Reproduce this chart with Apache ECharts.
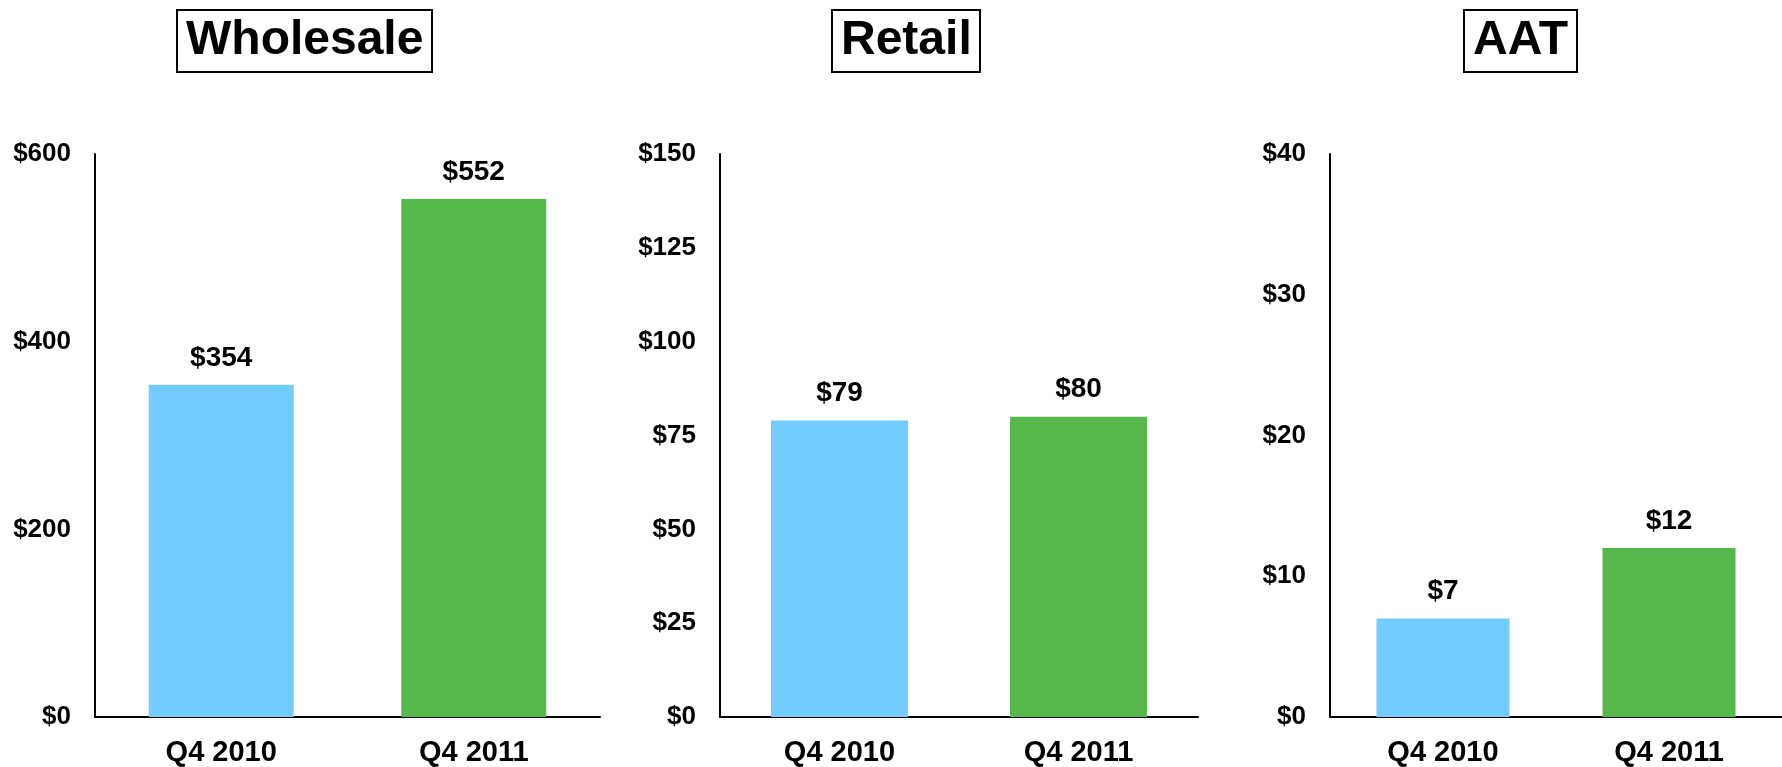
<!DOCTYPE html>
<html>
<head>
<meta charset="utf-8">
<script src="https://cdn.jsdelivr.net/npm/echarts@6/dist/echarts.min.js"></script>
<style>
    html, body { margin: 0; padding: 0; background: #fff; }
    #main { width: 1782px; height: 767px; }
</style>
</head>
<body>
<div id="main"></div>
<script>
let categories = ['Q4 2010', 'Q4 2011']
let panelTitles = ['Wholesale', 'Retail', 'AAT']
let wholesaleValues = [354, 552]
let retailValues = [79, 80]
let aatValues = [7, 12]
let barColors = ['#72CCFE', '#56B84A']

// axis ranges per panel: [max, interval]
let wholesaleAxis = [600, 200]
let retailAxis = [150, 25]
let aatAxis = [40, 10]

let font = 'Liberation Sans, Arial, sans-serif'

// layout of each panel (pixels)
let panels = [
    { values: wholesaleValues, axis: wholesaleAxis, left: 95, right: 1182, barWidth: 145, titleLeft: 177 },
    { values: retailValues, axis: retailAxis, left: 720, right: 584, barWidth: 137, titleLeft: 832 },
    { values: aatValues, axis: aatAxis, left: 1330, right: -11, barWidth: 133, titleLeft: 1464 }
]

function renderEcharts() {
    var myChart = echarts.init(document.getElementById('main'))

    let option = {
        backgroundColor: '#fff',
        animation: false,
        title: panels.map((p, i) => ({
            text: panelTitles[i],
            left: p.titleLeft,
            top: 10,
            padding: [7, 9],
            borderColor: '#000',
            borderWidth: 2,
            textStyle: { fontFamily: font, fontSize: 48, fontWeight: 'bold', color: '#000' }
        })),
        grid: panels.map(p => ({ left: p.left, right: p.right, top: 154, bottom: 49, containLabel: false })),
        xAxis: panels.map((p, i) => ({
            type: 'category',
            gridIndex: i,
            data: categories,
            axisLine: { lineStyle: { color: '#000', width: 2 } },
            axisTick: { show: false },
            axisLabel: { margin: 21, color: '#000', fontFamily: font, fontSize: 29, fontWeight: 'bold' }
        })),
        yAxis: panels.map((p, i) => ({
            type: 'value',
            gridIndex: i,
            min: 0,
            max: p.axis[0],
            interval: p.axis[1],
            splitLine: { show: false },
            axisTick: { show: false },
            axisLine: { show: true, lineStyle: { color: '#000', width: 2 } },
            axisLabel: {
                margin: 24,
                color: '#000',
                fontFamily: font,
                fontSize: 26,
                fontWeight: 'bold',
                formatter: v => '$' + v
            }
        })),
        series: panels.map((p, i) => ({
            type: 'bar',
            xAxisIndex: i,
            yAxisIndex: i,
            barWidth: p.barWidth,
            data: p.values.map((v, j) => ({ value: v, itemStyle: { color: barColors[j] } })),
            label: {
                show: true,
                position: 'top',
                distance: 13,
                color: '#000',
                fontFamily: font,
                fontSize: 28,
                fontWeight: 'bold',
                formatter: d => '$' + d.value
            }
        }))
    }

    myChart.setOption(option)
}

renderEcharts()
</script>
</body>
</html>
